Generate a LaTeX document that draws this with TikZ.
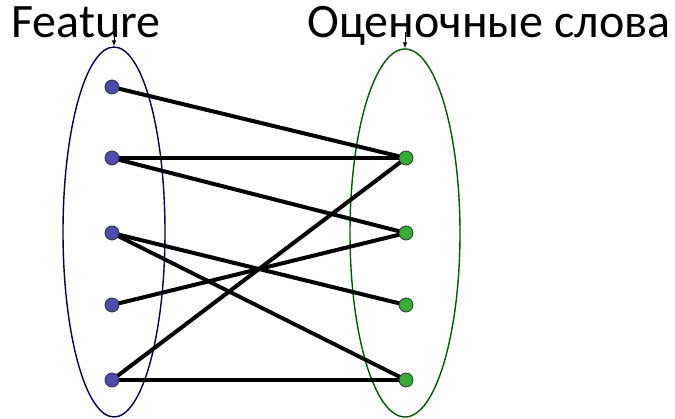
\documentclass[tikz,border=0pt]{standalone}
\usepackage{fontspec}
\setmainfont{Carlito}
\usepackage{tikz}
\usetikzlibrary{shapes,arrows,positioning,fit,calc}

\begin{document}
\begin{tikzpicture}[x=1pt, y=-1pt,
    featdot/.style={draw=black!80, fill=blue!55!black!70!white, circle, inner sep=0pt, minimum size=14pt, line width=0.8pt},
    worddot/.style={draw=black!80, fill=green!60!black!80!white, circle, inner sep=0pt, minimum size=14pt, line width=0.8pt},
    link/.style={line width=4pt},
    setlabel/.style={font=\fontsize{48}{48}\selectfont, inner sep=0pt, anchor=base}]
                    \useasboundingbox (0,0) rectangle (675,419);
                    % Sets
                    \node[draw=blue!30!black, line width=1.4pt, ellipse, minimum width=102pt, minimum height=370pt] (featset) at (114,232) {};
                    \node[draw=green!35!black, line width=1.4pt, ellipse, minimum width=110pt, minimum height=368pt] (wordset) at (405,233) {};
                    
                    % Labels
                    \node[setlabel] (featlab) at (86,38) {Feature};
                    \node[setlabel] (wordlab) at (489,38) {Оценочные слова};
                    \draw[-latex, line width=1pt] (featset.north) ++(0,-16) -- (featset.north);
                    \draw[-latex, line width=1pt] (wordset.north) ++(0,-16) -- (wordset.north);
                    
                    % Features
                    \foreach \i/\y in {1/87, 2/158, 3/233, 4/305, 5/380}
                        \coordinate (f\i) at (112,\y);
                    % Words
                    \foreach \i/\y in {1/158, 2/233, 3/305, 4/380}
                        \coordinate (w\i) at (406,\y);
                    
                    \foreach \a/\b in {1/1, 2/1, 2/2, 3/3, 3/4, 4/2, 5/1, 5/4}
                        \draw[link] (f\a) -- (w\b);
                    % dots on top of links
                    \foreach \i in {1,...,5}
                        \node[featdot] (fdot\i) at (f\i) {};
                    \foreach \i in {1,...,4}
                        \node[worddot] (wdot\i) at (w\i) {};
                \end{tikzpicture}
\end{document}
